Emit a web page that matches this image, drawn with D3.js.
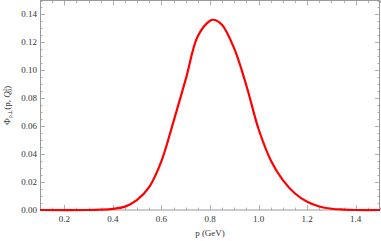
<!DOCTYPE html>
<html>
<head>
<meta charset="utf-8">
<script src="https://cdn.jsdelivr.net/npm/d3@7"></script>
<style>
body{margin:0;background:#fff;}
svg{display:block;}
.tl{font-family:"Liberation Serif","DejaVu Serif",serif;font-size:9px;fill:#333;}
</style>
</head>
<body>
<div id="chart"></div>
<script>
// momentum p (GeV) and the curve
var pVals=[0.1,0.3,0.35,0.4,0.45,0.5,0.55,0.6,0.65,0.7,0.75,0.8,0.815,0.85,0.9,0.95,1.0,1.05,1.1,1.15,1.2,1.25,1.3,1.35,1.4,1.5];
var phiVals=[0,0,0.0002,0.0008,0.0024,0.0072,0.0165,0.035,0.0635,0.0935,0.1245,0.1355,0.1362,0.1325,0.1155,0.089,0.058,0.0357,0.0214,0.0118,0.0059,0.0025,0.0009,0.0003,0,0];
var xTicks=[0.2,0.4,0.6,0.8,1.0,1.2,1.4];
var yTicks=[0,0.02,0.04,0.06,0.08,0.10,0.12,0.14];

var W=381,H=241;
var mLeft=40,mRight=380,mTop=0.5,mBottom=210;

var svg=d3.select("#chart").append("svg")
    .attr("width",W)
    .attr("height",H);

var x=d3.scaleLinear().domain([0.1,1.5]).range([mLeft,mRight]);
var y=d3.scaleLinear().domain([0,0.15]).range([mBottom,mTop]);

var frameCol="#9a9a9a";

// minor / major ticks on all four sides, pointing inward
var xMinor=d3.range(0.1,1.5001,0.05);
var yMinor=d3.range(0,0.1501,0.005);

function isMajor(v,arr){return arr.some(function(t){return Math.abs(t-v)<1e-6;});}

var g=svg.append("g").attr("stroke",frameCol).attr("stroke-width",0.8);

xMinor.forEach(function(v){
    var len=isMajor(v,xTicks)?5:2.5;
    var px=Math.round(x(v))+0.5;
    g.append("line").attr("x1",px).attr("x2",px).attr("y1",mBottom).attr("y2",mBottom-len);
    g.append("line").attr("x1",px).attr("x2",px).attr("y1",mTop).attr("y2",mTop+len);
});
yMinor.forEach(function(v){
    var len=isMajor(v,yTicks)?5:2.5;
    var py=Math.round(y(v))+0.5;
    g.append("line").attr("x1",mLeft).attr("x2",mLeft+len).attr("y1",py).attr("y2",py);
    g.append("line").attr("x1",mRight).attr("x2",mRight-len).attr("y1",py).attr("y2",py);
});

// frame
svg.append("rect")
    .attr("x",mLeft+0.5).attr("y",mTop)
    .attr("width",mRight-mLeft-1).attr("height",mBottom-mTop)
    .attr("fill","none").attr("stroke",frameCol).attr("stroke-width",1);

// tick labels
svg.selectAll(".xl").data(xTicks).enter().append("text")
    .attr("class","tl")
    .attr("x",function(d){return x(d);})
    .attr("y",mBottom+12)
    .attr("text-anchor","middle")
    .text(function(d){return d.toFixed(1);});

svg.selectAll(".yl").data(yTicks).enter().append("text")
    .attr("class","tl")
    .attr("x",mLeft-3)
    .attr("y",function(d){return y(d)+3;})
    .attr("text-anchor","end")
    .text(function(d){return d.toFixed(2);});

// curve
var pts=pVals.map(function(p,i){return [p,phiVals[i]];});
var line=d3.line()
    .x(function(d){return x(d[0]);})
    .y(function(d){return y(d[1]);})
    .curve(d3.curveCatmullRom.alpha(0.5));

svg.append("path")
    .datum(pts)
    .attr("d",line)
    .attr("fill","none")
    .attr("stroke","#ff0000")
    .attr("stroke-width",2.2);

// axis labels
svg.append("text")
    .attr("class","tl")
    .attr("x",(mLeft+mRight)/2)
    .attr("y",236)
    .attr("text-anchor","middle")
    .text("p (GeV)");

var yl=svg.append("text")
    .attr("class","tl")
    .attr("transform","translate(10,"+((mTop+mBottom)/2)+") rotate(-90)")
    .attr("text-anchor","middle");
yl.append("tspan").text("Φ");
yl.append("tspan").attr("font-size","6px").attr("dy",2).text("ρ⊥");
yl.append("tspan").attr("dy",-2).text("(p, ");
yl.append("tspan").attr("font-style","italic").text("Q");
yl.append("tspan").attr("font-size","6px").attr("dy",-3).text("2");
yl.append("tspan").attr("font-size","6px").attr("dx",-3.5).attr("dy",5).text("0");
yl.append("tspan").attr("dy",-2).text(")");
</script>
</body>
</html>
